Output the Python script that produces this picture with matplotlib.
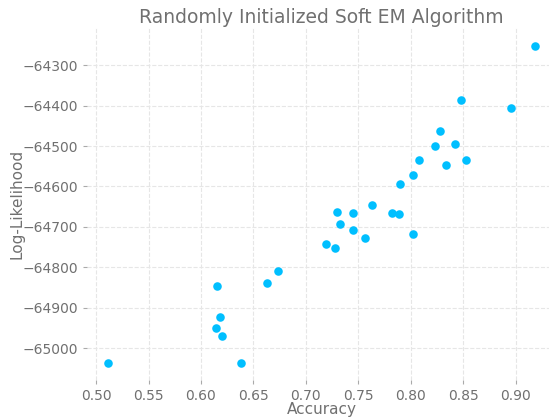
import matplotlib
matplotlib.use("Agg")
import matplotlib.pyplot as plt

# accuracy vs log-likelihood for each random restart
accuracy = [0.9184, 0.8476, 0.8952, 0.8279, 0.8226, 0.8419, 0.8073, 0.8333,
            0.8521, 0.8019, 0.7892, 0.7626, 0.7295, 0.7448, 0.7819, 0.7883,
            0.7324, 0.7448, 0.7562, 0.8022, 0.7193, 0.7273, 0.6733, 0.6626,
            0.6152, 0.6184, 0.6146, 0.6200, 0.5117, 0.6378]
log_likelihood = [-64252, -64385, -64406, -64462, -64500, -64495, -64534, -64546,
                  -64534, -64572, -64594, -64645, -64664, -64665, -64665, -64669,
                  -64692, -64707, -64727, -64718, -64743, -64753, -64810, -64839,
                  -64847, -64922, -64950, -64969, -65038, -65038]

text_grey = "#707070"

fig = plt.figure(figsize=(5.49, 4.18), dpi=100)
# axes runs a little past the right edge of the figure, as in the original
ax = fig.add_axes([0.1585, 0.0909, 0.855, 0.842])

ax.scatter(accuracy, log_likelihood, s=38, color="#00BFFF", zorder=3, linewidths=0)

ax.set_xlim(0.4914, 0.9387)
ax.set_ylim(-65079, -64208)
ax.set_xticks([0.50, 0.55, 0.60, 0.65, 0.70, 0.75, 0.80, 0.85, 0.90])
ax.set_yticks([-65000, -64900, -64800, -64700, -64600, -64500, -64400, -64300])

for s in ax.spines.values():
    s.set_visible(False)
ax.grid(True, linestyle="--", color="#e6e6e6", linewidth=0.8)
ax.set_axisbelow(True)
ax.tick_params(colors="#aaaaaa", labelcolor=text_grey, labelsize=10, length=3, width=0.8)

ax.set_title("Randomly Initialized Soft EM Algorithm", color=text_grey, fontsize=13.5, pad=3.6)
ax.set_xlabel("Accuracy", color=text_grey, fontsize=11)
ax.set_ylabel("Log-Likelihood", color=text_grey, fontsize=11)
ax.xaxis.set_label_coords(0.5, -0.062)
ax.yaxis.set_label_coords(-0.134, 0.5)

fig.savefig("out.png", dpi=100)
